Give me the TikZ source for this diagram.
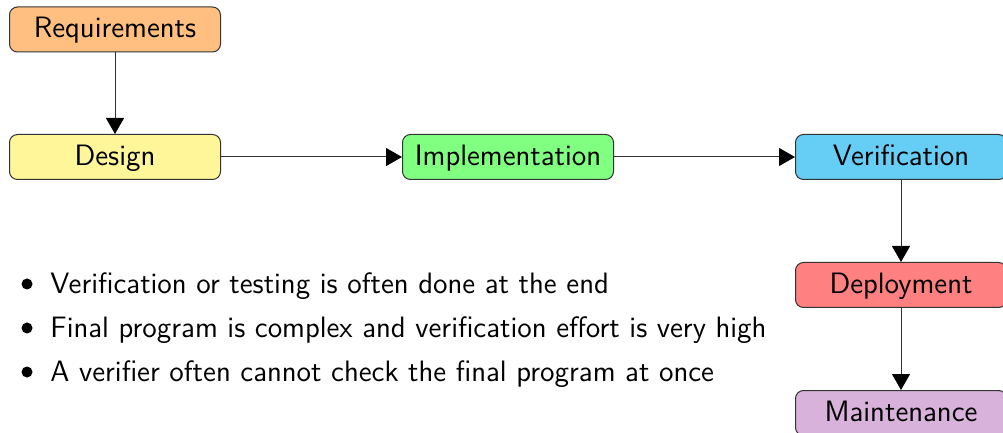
\documentclass[tikz,border=0pt]{standalone}
\usetikzlibrary{arrows.meta,positioning}
\renewcommand{\familydefault}{\sfdefault}
\definecolor{cReq}{RGB}{255,191,128}
\definecolor{cDes}{RGB}{255,246,154}
\definecolor{cImp}{RGB}{128,255,128}
\definecolor{cVer}{RGB}{102,206,245}
\definecolor{cDep}{RGB}{255,128,128}
\definecolor{cMai}{RGB}{216,178,218}
\definecolor{cLine}{RGB}{50,50,50}
\tikzset{
  phase/.style={draw=black!80, line width=0.5pt, rounded corners=4pt,
    minimum width=105.5pt, minimum height=22.5pt, inner sep=0pt,
    font=\fontsize{14.75}{17}\selectfont, text height=2.05ex, text depth=0.2ex},
  flow/.style={draw=cLine, line width=0.5pt, -{Triangle[length=8pt,width=9pt,color=black]}},
  bullet/.style={anchor=base west, inner sep=0pt, font=\fontsize{14.75}{17}\selectfont},
  dot/.style={circle, fill=black, inner sep=0pt, minimum size=5.5pt},
}
\begin{document}
\begin{tikzpicture}[x=0.5pt,y=-0.5pt]
\useasboundingbox (0,0) rectangle (1003,433);
\node[phase, fill=cReq] (req) at (115,29.5) {Requirements};
\node[phase, fill=cDes] (des) at (115,157) {Design};
\node[phase, fill=cImp] (imp) at (508,157) {Implementation};
\node[phase, fill=cVer] (ver) at (901,157) {Verification};
\node[phase, fill=cDep] (dep) at (901,285) {Deployment};
\node[phase, fill=cMai] (mai) at (901,413) {Maintenance};
\draw[flow] (req) -- (des);
\draw[flow] (des) -- (imp);
\draw[flow] (imp) -- (ver);
\draw[flow] (ver) -- (dep);
\draw[flow] (dep) -- (mai);
\node[dot] (d1) at (27,284) {};
\node[dot] (d2) at (27,328) {};
\node[dot] (d3) at (27,372) {};
\node[bullet] (b1) at (50,293) {Verification or testing is often done at the end};
\node[bullet] (b2) at (50,337) {Final program is complex and verification effort is very high};
\node[bullet] (b3) at (50,381) {A verifier often cannot check the final program at once};
\end{tikzpicture}
\end{document}
